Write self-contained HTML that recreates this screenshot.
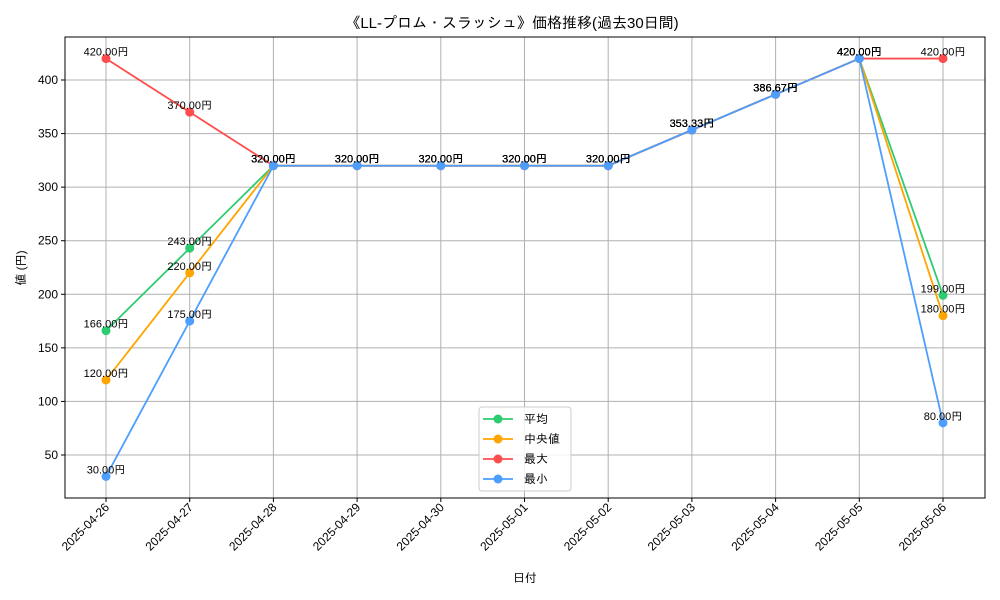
<!DOCTYPE html>
<html><head><meta charset="utf-8">
<style>
body{margin:0;background:#fff;}
svg{display:block;font-family:"Liberation Sans","IPAGothic","Noto Sans CJK JP",sans-serif;}
</style></head>
<body>
<svg id="chart" width="1000" height="600" xmlns="http://www.w3.org/2000/svg">
<rect width="1000" height="600" fill="#fff"/>
<text x="512" y="28" font-size="15" text-anchor="middle" fill="#000">《LL-プロム・スラッシュ》価格推移(過去30日間)</text>
<g id="grid"></g>
<rect x="65" y="37" width="920" height="461" fill="none" stroke="#000" stroke-width="1"/>
<g id="series"></g>
<g id="labels"></g>
<text x="525" y="582" font-size="12" text-anchor="middle">日付</text>
<text transform="translate(25,268) rotate(-90)" font-size="12" text-anchor="middle">値 (円)</text>
<g>
<rect x="479" y="407" width="92" height="84" rx="3" fill="#fff" fill-opacity="0.85" stroke="#ccc"/>
</g>
<g id="legend"></g>
</svg>
<script>
const categories=["2025-04-26","2025-04-27","2025-04-28","2025-04-29","2025-04-30","2025-05-01","2025-05-02","2025-05-03","2025-05-04","2025-05-05","2025-05-06"];
const avgValues=[166,243,320,320,320,320,320,353.33,386.67,420,199];
const medianValues=[120,220,320,320,320,320,320,353.33,386.67,420,180];
const maxValues=[420,370,320,320,320,320,320,353.33,386.67,420,420];
const minValues=[30,175,320,320,320,320,320,353.33,386.67,420,80];
const yTicks=[50,100,150,200,250,300,350,400];
const seriesNames=["平均","中央値","最大","最小"];
const seriesColors=["#2ecc71","#ffa500","#ff4d4d","#4d9eff"];
const NS="http://www.w3.org/2000/svg";
function xPos(i){return 106+i*(943-106)/(categories.length-1);}
function yPos(v){return 455-(v-50)*(455-80)/350;}
function mk(tag,attrs,parent){const e=document.createElementNS(NS,tag);for(const k in attrs)e.setAttribute(k,attrs[k]);parent.appendChild(e);return e;}
const grid=document.getElementById('grid');
yTicks.forEach(v=>{
 const y=yPos(v);
 const l=mk('line',{x1:65,x2:985,y1:y,y2:y,stroke:'#b0b0b0','stroke-width':1},grid);
 
 
 mk('line',{x1:61,x2:65,y1:y,y2:y,stroke:'#000'},grid);
 const t=mk('text',{x:58,y:y+4,'font-size':12,'text-anchor':'end'},grid);
 t.textContent=v;
 
 
});
categories.forEach((c,i)=>{
 const x=xPos(i);
 const l=mk('line',{x1:x,x2:x,y1:37,y2:498,stroke:'#b0b0b0','stroke-width':1},grid);
 
 
 mk('line',{x1:x,x2:x,y1:498,y2:502,stroke:'#000'},grid);
 const t=mk('text',{x:0,y:0,'font-size':12,'text-anchor':'end',transform:`translate(${x+4},${508}) rotate(-45)`},grid);
 t.textContent=c;
 
 
});
const all=[avgValues,medianValues,maxValues,minValues];
const sg=document.getElementById('series'),lg=document.getElementById('labels');
all.forEach((vals,s)=>{
 const g=mk('g',{},sg);
 
 
 const pts=vals.map((v,i)=>xPos(i)+','+yPos(v)).join(' ');
 mk('polyline',{points:pts,fill:'none',stroke:seriesColors[s],'stroke-width':1.8},g);
 vals.forEach((v,i)=>{
  const c=mk('circle',{cx:xPos(i),cy:yPos(v),r:4.5,fill:seriesColors[s]},g);
  
  
  const t=mk('text',{x:xPos(i),y:yPos(v)-3,'font-size':11,'text-anchor':'middle'},lg);
  t.textContent=v.toFixed(2)+'円';
  
  
 });
});
const leg=document.getElementById('legend');
seriesNames.forEach((n,s)=>{
 const y=419+s*20;
 const g=mk('g',{},leg);
 
 
 mk('line',{x1:483,x2:513,y1:y,y2:y,stroke:seriesColors[s],'stroke-width':1.8},g);
 mk('circle',{cx:498,cy:y,r:4.5,fill:seriesColors[s]},g);
 const t=mk('text',{x:524,y:y+4,'font-size':12},g);
 t.textContent=n;
});
</script>
</body></html>
